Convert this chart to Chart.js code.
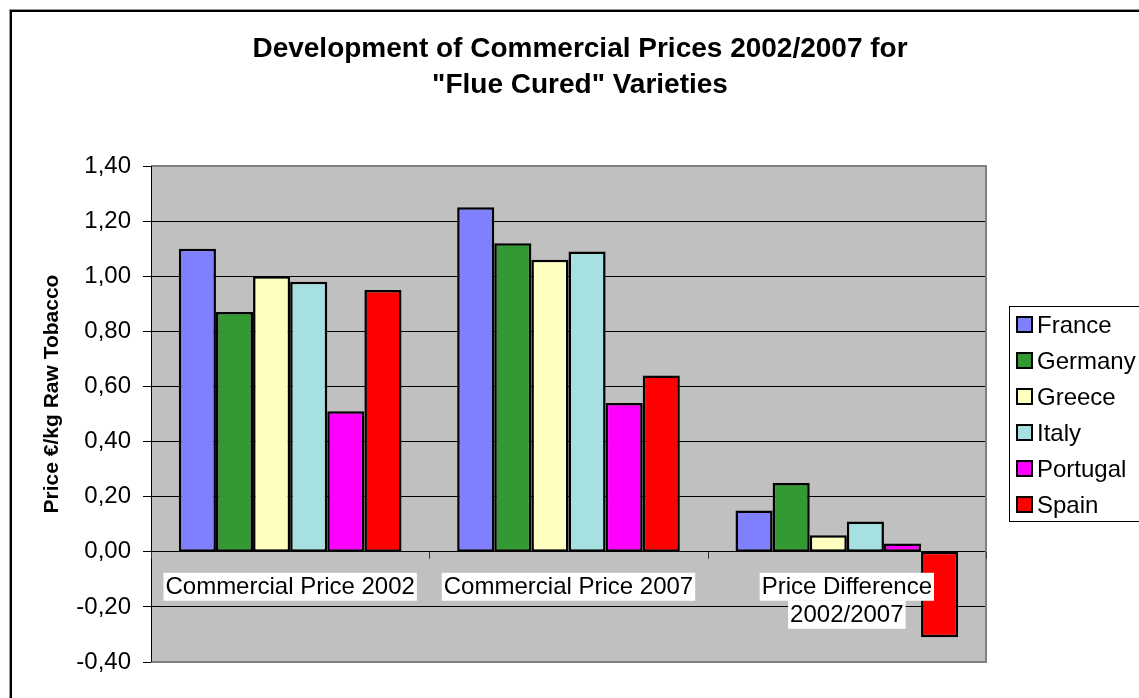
<!DOCTYPE html>
<html>
<head>
<meta charset="utf-8">
<script src="https://cdn.jsdelivr.net/npm/chart.js@4"></script>
<style>
  html, body { margin: 0; padding: 0; background: #fff; }
  #wrap { width: 1139px; height: 698px; position: relative; }
</style>
</head>
<body>
<div id="wrap"><canvas id="myChart" width="1139" height="698"></canvas></div>
<script>
var categories = ["Commercial Price 2002", "Commercial Price 2007", ["Price Difference", "2002/2007"]];
var countries = ["France", "Germany", "Greece", "Italy", "Portugal", "Spain"];
var barColors = ["#8080FF", "#339933", "#FFFFC0", "#A6E0E0", "#FF00FF", "#FF0000"];

// one row per country: 2002, 2007, difference
var france   = [1.10, 1.25, 0.15];
var germany  = [0.87, 1.12, 0.25];
var greece   = [1.00, 1.06, 0.06];
var italy    = [0.98, 1.09, 0.11];
var portugal = [0.51, 0.54, 0.03];
var spain    = [0.95, 0.64, -0.31];

var yMin = -0.4, yMax = 1.4, yStep = 0.2;

var chartTitle = ["Development of Commercial Prices 2002/2007 for", "\"Flue Cured\" Varieties"];
var yTitle = "Price \u20ac/kg Raw Tobacco";

var FONT = "'Liberation Sans', Arial, sans-serif";
var series = [france, germany, greece, italy, portugal, spain];

var datasets = countries.map(function (name, i) {
  return {
    label: name,
    data: series[i],
    backgroundColor: barColors[i],
    borderColor: "#000",
    borderWidth: 2.5,
    borderSkipped: false
  };
});

function fmt(v) {
  return (Math.round(v * 100) / 100).toFixed(2).replace(".", ",");
}

var decor = {
  id: "decor",
  beforeDraw: function (chart) {
    var ctx = chart.ctx, a = chart.chartArea;
    ctx.save();
    ctx.fillStyle = "#fff";
    ctx.fillRect(0, 0, chart.width, chart.height);
    // outer frame
    ctx.strokeStyle = "#999";
    ctx.lineWidth = 1;
    ctx.strokeRect(9.5, 9.5, 1300, 900);
    ctx.strokeStyle = "#000";
    ctx.lineWidth = 2;
    ctx.strokeRect(11, 11, 1300, 900);
    // plot background
    ctx.fillStyle = "#C0C0C0";
    ctx.fillRect(a.left, a.top, a.right - a.left, a.bottom - a.top);
    ctx.restore();
  },
  afterDatasetsDraw: function (chart) {
    var ctx = chart.ctx, a = chart.chartArea;
    var x = chart.scales.x, y = chart.scales.y;
    var y0 = y.getPixelForValue(0);
    ctx.save();

    // plot border
    ctx.strokeStyle = "#808080";
    ctx.lineWidth = 2;
    ctx.beginPath();
    ctx.moveTo(a.left, a.top);
    ctx.lineTo(a.right, a.top);
    ctx.lineTo(a.right, a.bottom);
    ctx.lineTo(a.left, a.bottom);
    ctx.stroke();
    ctx.strokeStyle = "#000";
    ctx.lineWidth = 1;
    ctx.beginPath();
    ctx.moveTo(a.left + 0.5, a.top);
    ctx.lineTo(a.left + 0.5, a.bottom);
    ctx.stroke();

    // category ticks on the zero line
    var step = (a.right - a.left) / categories.length;
    ctx.beginPath();
    for (var i = 0; i <= categories.length; i++) {
      var tx = Math.round(a.left + step * i) + 0.5;
      ctx.moveTo(tx, y0);
      ctx.lineTo(tx, y0 + 7);
    }
    ctx.strokeStyle = "#333";
    ctx.stroke();

    // category labels on white boxes
    ctx.font = "24px " + FONT;
    ctx.textAlign = "center";
    ctx.textBaseline = "middle";
    categories.forEach(function (c, i) {
      var lines = Array.isArray(c) ? c : [c];
      var cx = x.getPixelForValue(i);
      lines.forEach(function (t, j) {
        var cy = y0 + 35 + j * 28;
        var w = ctx.measureText(t).width;
        ctx.fillStyle = "#fff";
        ctx.fillRect(cx - w / 2 - 2, cy - 14, w + 4, 28);
        ctx.fillStyle = "#000";
        ctx.fillText(t, cx, cy + 1);
      });
    });

    // legend
    ctx.strokeStyle = "#000";
    ctx.lineWidth = 1;
    ctx.strokeRect(1009.5, 306.5, 200, 215);
    ctx.textAlign = "left";
    ctx.font = "24px " + FONT;
    countries.forEach(function (name, i) {
      var ly = 325 + i * 36;
      ctx.fillStyle = barColors[i];
      ctx.fillRect(1017, ly - 8, 15, 15);
      ctx.lineWidth = 2;
      ctx.strokeStyle = "#000";
      ctx.strokeRect(1017, ly - 8, 15, 15);
      ctx.fillStyle = "#000";
      ctx.fillText(name, 1037, ly + 1);
    });

    // chart title
    ctx.font = "bold 28px " + FONT;
    ctx.textAlign = "center";
    ctx.fillText(chartTitle[0], 580, 49);
    ctx.fillText(chartTitle[1], 580, 85);

    // y axis title
    ctx.translate(52, 394);
    ctx.rotate(-Math.PI / 2);
    ctx.font = "bold 21px " + FONT;
    ctx.fillText(yTitle, 0, 0);
    ctx.restore();
  }
};

new Chart("myChart", {
  type: "bar",
  data: {
    labels: categories,
    datasets: datasets
  },
  options: {
    responsive: false,
    animation: false,
    events: [],
    layout: { padding: { left: 0, top: 166, right: 153, bottom: 36 } },
    datasets: { bar: { categoryPercentage: 0.8, barPercentage: 1.0 } },
    plugins: {
      legend: { display: false },
      title: { display: false },
      tooltip: { enabled: false }
    },
    scales: {
      x: { display: false },
      y: {
        min: yMin,
        max: yMax,
        afterFit: function (s) { s.width = 151; },
        ticks: {
          stepSize: yStep,
          padding: 12,
          color: "#000",
          font: { family: FONT, size: 24 },
          callback: function (v) { return fmt(v); }
        },
        grid: {
          color: "#000",
          lineWidth: 1,
          tickLength: 8,
          tickColor: "#000",
          drawTicks: true
        },
        border: { display: true, color: "#000", width: 1 }
      }
    }
  },
  plugins: [decor]
});
</script>
</body>
</html>
